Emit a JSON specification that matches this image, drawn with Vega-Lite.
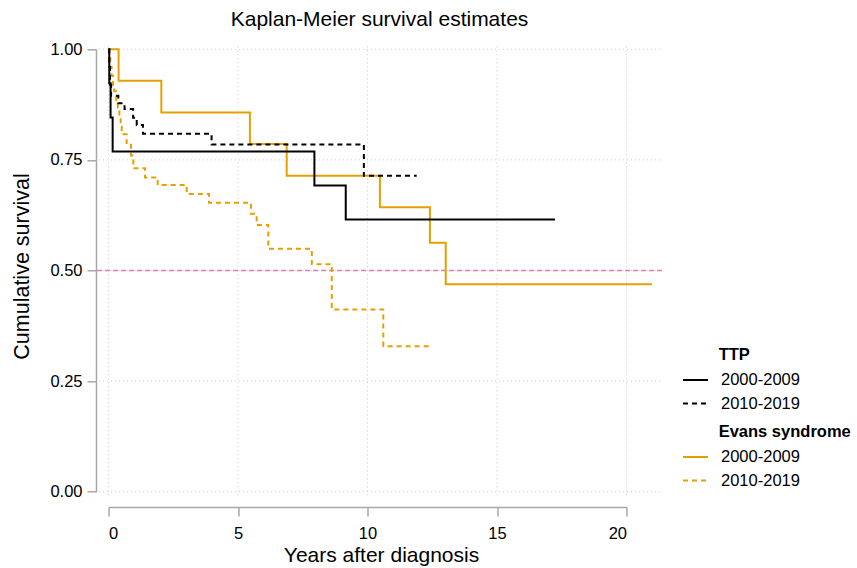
{
  "$schema": "https://vega.github.io/schema/vega-lite/v6.json",
  "width": 518,
  "height": 442.4,
  "autosize": {"type": "none"},
  "padding": {"left": 108.5, "top": 49.3, "right": 230.5, "bottom": 76.3},
  "background": "white",
  "config": {
    "font": "Liberation Sans",
    "view": {"stroke": null},
    "axis": {
      "domainColor": "#a8a8a8",
      "domainWidth": 1.5,
      "tickColor": "#a8a8a8",
      "tickWidth": 1.5,
      "tickSize": 9,
      "labelFontSize": 16.5,
      "labelColor": "#000000",
      "titleFontSize": 21,
      "titleFontWeight": "normal",
      "titleColor": "#000000",
      "grid": false
    },
    "legend": {
      "orient": "none",
      "labelFontSize": 16.5,
      "labelColor": "#000000",
      "titleFontSize": 16.5,
      "titleFontWeight": "bold",
      "titleColor": "#000000",
      "symbolType": "stroke",
      "symbolSize": 625,
      "symbolStrokeWidth": 2,
      "rowPadding": 1.5,
      "titlePadding": 3,
      "labelOffset": 12,
      "padding": 0
    }
  },
  "title": {
    "text": "Kaplan-Meier survival estimates",
    "fontSize": 21,
    "fontWeight": "normal",
    "color": "#000000",
    "baseline": "alphabetic",
    "offset": 23.3,
    "dy": 29,
    "dx": 12,
    "anchor": "middle"
  },
  "datasets": {
    "hgrid": [
      {"x0": -0.37, "x1": 21.3, "y": 0},
      {"x0": -0.37, "x1": 21.3, "y": 0.25},
      {"x0": -0.37, "x1": 21.3, "y": 0.5},
      {"x0": -0.37, "x1": 21.3, "y": 0.75},
      {"x0": -0.37, "x1": 21.3, "y": 1}
    ],
    "vgrid": [
      {"x": 0, "y0": -0.008, "y1": 1.009},
      {"x": 5, "y0": -0.008, "y1": 1.009},
      {"x": 10, "y0": -0.008, "y1": 1.009},
      {"x": 15, "y0": -0.008, "y1": 1.009},
      {"x": 20, "y0": -0.008, "y1": 1.009}
    ],
    "ref": [
      {"x0": -0.44, "x1": 21.37, "y": 0.5}
    ],
    "km": [
      {"group": "TTP", "period": "2000-2009", "t": 0, "s": 1},
      {"group": "TTP", "period": "2000-2009", "t": 0.03, "s": 0.923},
      {"group": "TTP", "period": "2000-2009", "t": 0.08, "s": 0.846},
      {"group": "TTP", "period": "2000-2009", "t": 0.16, "s": 0.769},
      {"group": "TTP", "period": "2000-2009", "t": 7.95, "s": 0.692},
      {"group": "TTP", "period": "2000-2009", "t": 9.16, "s": 0.615},
      {"group": "TTP", "period": "2000-2009", "t": 17.24, "s": 0.615},

      {"group": "TTP", "period": "2010-2019", "t": 0, "s": 1},
      {"group": "TTP", "period": "2010-2019", "t": 0.03, "s": 0.96},
      {"group": "TTP", "period": "2010-2019", "t": 0.06, "s": 0.92},
      {"group": "TTP", "period": "2010-2019", "t": 0.1, "s": 0.895},
      {"group": "TTP", "period": "2010-2019", "t": 0.38, "s": 0.878},
      {"group": "TTP", "period": "2010-2019", "t": 0.62, "s": 0.865},
      {"group": "TTP", "period": "2010-2019", "t": 0.95, "s": 0.845},
      {"group": "TTP", "period": "2010-2019", "t": 1.09, "s": 0.829},
      {"group": "TTP", "period": "2010-2019", "t": 1.33, "s": 0.809},
      {"group": "TTP", "period": "2010-2019", "t": 3.98, "s": 0.785},
      {"group": "TTP", "period": "2010-2019", "t": 9.86, "s": 0.714},
      {"group": "TTP", "period": "2010-2019", "t": 11.9, "s": 0.714},

      {"group": "Evans syndrome", "period": "2000-2009", "t": 0, "s": 1},
      {"group": "Evans syndrome", "period": "2000-2009", "t": 0.39, "s": 0.929},
      {"group": "Evans syndrome", "period": "2000-2009", "t": 2.04, "s": 0.857},
      {"group": "Evans syndrome", "period": "2000-2009", "t": 5.46, "s": 0.786},
      {"group": "Evans syndrome", "period": "2000-2009", "t": 6.88, "s": 0.714},
      {"group": "Evans syndrome", "period": "2000-2009", "t": 10.48, "s": 0.643},
      {"group": "Evans syndrome", "period": "2000-2009", "t": 12.41, "s": 0.5625},
      {"group": "Evans syndrome", "period": "2000-2009", "t": 13.02, "s": 0.469},
      {"group": "Evans syndrome", "period": "2000-2009", "t": 20.98, "s": 0.469},

      {"group": "Evans syndrome", "period": "2010-2019", "t": 0, "s": 1},
      {"group": "Evans syndrome", "period": "2010-2019", "t": 0.02, "s": 0.98},
      {"group": "Evans syndrome", "period": "2010-2019", "t": 0.07, "s": 0.96},
      {"group": "Evans syndrome", "period": "2010-2019", "t": 0.12, "s": 0.94},
      {"group": "Evans syndrome", "period": "2010-2019", "t": 0.17, "s": 0.92},
      {"group": "Evans syndrome", "period": "2010-2019", "t": 0.22, "s": 0.905},
      {"group": "Evans syndrome", "period": "2010-2019", "t": 0.3, "s": 0.885},
      {"group": "Evans syndrome", "period": "2010-2019", "t": 0.36, "s": 0.868},
      {"group": "Evans syndrome", "period": "2010-2019", "t": 0.42, "s": 0.845},
      {"group": "Evans syndrome", "period": "2010-2019", "t": 0.47, "s": 0.825},
      {"group": "Evans syndrome", "period": "2010-2019", "t": 0.51, "s": 0.808},
      {"group": "Evans syndrome", "period": "2010-2019", "t": 0.7, "s": 0.788},
      {"group": "Evans syndrome", "period": "2010-2019", "t": 0.87, "s": 0.76},
      {"group": "Evans syndrome", "period": "2010-2019", "t": 0.96, "s": 0.731},
      {"group": "Evans syndrome", "period": "2010-2019", "t": 1.41, "s": 0.71},
      {"group": "Evans syndrome", "period": "2010-2019", "t": 1.9, "s": 0.693},
      {"group": "Evans syndrome", "period": "2010-2019", "t": 3.02, "s": 0.673},
      {"group": "Evans syndrome", "period": "2010-2019", "t": 3.88, "s": 0.653},
      {"group": "Evans syndrome", "period": "2010-2019", "t": 5.5, "s": 0.628},
      {"group": "Evans syndrome", "period": "2010-2019", "t": 5.72, "s": 0.603},
      {"group": "Evans syndrome", "period": "2010-2019", "t": 6.17, "s": 0.549},
      {"group": "Evans syndrome", "period": "2010-2019", "t": 7.85, "s": 0.514},
      {"group": "Evans syndrome", "period": "2010-2019", "t": 8.62, "s": 0.412},
      {"group": "Evans syndrome", "period": "2010-2019", "t": 10.61, "s": 0.329},
      {"group": "Evans syndrome", "period": "2010-2019", "t": 12.41, "s": 0.329}
    ]
  },
  "layer": [
    {
      "data": {"name": "hgrid"},
      "mark": {"type": "rule", "color": "#cccccc", "strokeWidth": 1, "strokeDash": [1, 3]},
      "encoding": {
        "x": {
          "field": "x0", "type": "quantitative", "title": "Years after diagnosis",
          "scale": {"domain": [0, 20], "nice": false, "zero": false},
          "axis": {
            "values": [0, 5, 10, 15, 20],
            "offset": 15.2,
            "labelPadding": 23,
            "labelBaseline": "alphabetic",
            "titleX": 272.5,
            "titleY": 55,
            "titleBaseline": "alphabetic",
            "titleAnchor": null
          }
        },
        "x2": {"field": "x1"},
        "y": {
          "field": "y", "type": "quantitative", "title": "Cumulative survival",
          "scale": {"domain": [0, 1], "nice": false, "zero": false},
          "axis": {
            "values": [0, 0.25, 0.5, 0.75, 1],
            "format": ".2f",
            "offset": 12.5,
            "labelPadding": 5,
            "titleX": -68,
            "titleY": 216.7,
            "titleAngle": -90,
            "titleFontSize": 21.5,
            "titleBaseline": "alphabetic",
            "titleAlign": "center"
          }
        }
      }
    },
    {
      "data": {"name": "vgrid"},
      "mark": {"type": "rule", "color": "#cccccc", "strokeWidth": 1, "strokeDash": [1, 3]},
      "encoding": {
        "x": {"field": "x", "type": "quantitative", "title": "Years after diagnosis"},
        "y": {"field": "y0", "type": "quantitative", "title": "Cumulative survival"},
        "y2": {"field": "y1"}
      }
    },
    {
      "data": {"name": "ref"},
      "mark": {"type": "rule", "color": "#e07bb0", "strokeWidth": 1.5, "strokeDash": [5, 3]},
      "encoding": {
        "x": {"field": "x0", "type": "quantitative", "title": "Years after diagnosis"},
        "x2": {"field": "x1"},
        "y": {"field": "y", "type": "quantitative", "title": "Cumulative survival"}
      }
    },
    {
      "data": {"name": "km"},
      "transform": [{"filter": "datum.group === 'Evans syndrome'"}],
      "mark": {"type": "line", "interpolate": "step-after", "color": "#E69F00", "strokeWidth": 2},
      "encoding": {
        "x": {"field": "t", "type": "quantitative", "title": "Years after diagnosis"},
        "y": {"field": "s", "type": "quantitative", "title": "Cumulative survival"},
        "strokeDash": {
          "field": "period", "type": "nominal",
          "scale": {"domain": ["2000-2009", "2010-2019"], "range": [[1, 0], [5, 4]]},
          "legend": {
            "title": "\u200b\u00a0\u00a0\u00a0\u00a0\u00a0\u00a0\u00a0\u00a0Evans syndrome",
            "legendX": 573.5,
            "legendY": 374.7,
            "symbolStrokeColor": "#E69F00"
          }
        }
      }
    },
    {
      "data": {"name": "km"},
      "transform": [{"filter": "datum.group === 'TTP'"}],
      "mark": {"type": "line", "interpolate": "step-after", "color": "#000000", "strokeWidth": 2},
      "encoding": {
        "x": {"field": "t", "type": "quantitative", "title": "Years after diagnosis"},
        "y": {"field": "s", "type": "quantitative", "title": "Cumulative survival"},
        "strokeDash": {
          "field": "period", "type": "nominal",
          "scale": {"domain": ["2000-2009", "2010-2019"], "range": [[1, 0], [5, 4]]},
          "legend": {
            "title": "\u200b\u00a0\u00a0\u00a0\u00a0\u00a0\u00a0\u00a0\u00a0TTP",
            "legendX": 573.5,
            "legendY": 297.7,
            "symbolStrokeColor": "#000000"
          }
        }
      }
    }
  ],
  "resolve": {"scale": {"strokeDash": "independent"}, "legend": {"strokeDash": "independent"}}
}
